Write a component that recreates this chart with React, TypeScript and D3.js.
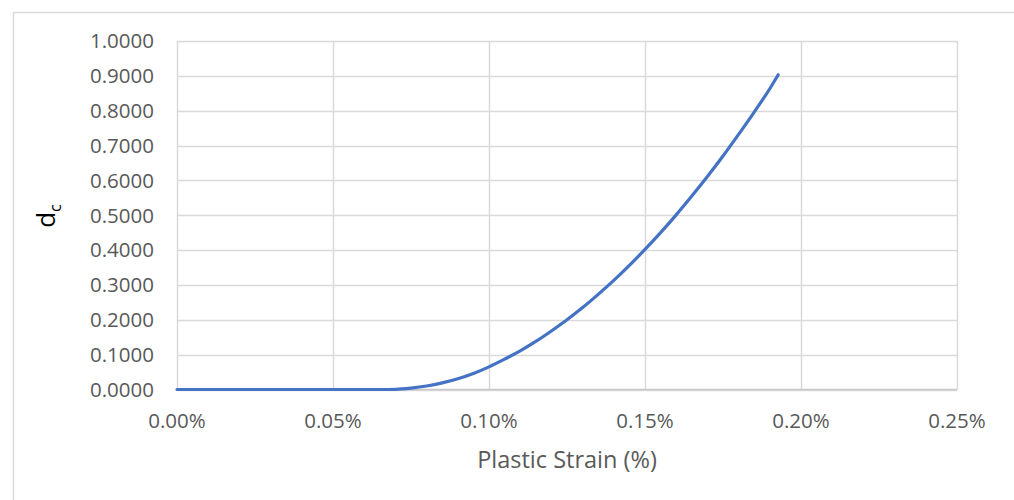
import React from "react";
import * as d3 from "d3";

const strainPct = [0, 0.01, 0.02, 0.03, 0.04, 0.05, 0.06, 0.065, 0.07, 0.075, 0.08, 0.085, 0.09, 0.095, 0.1, 0.105, 0.11, 0.115, 0.12, 0.125, 0.13, 0.135, 0.14, 0.145, 0.15, 0.155, 0.16, 0.165, 0.17, 0.175, 0.18, 0.185, 0.19, 0.1927];
const dcValues = [0, 0, 0, 0, 0, 0, 0, 0, 0.0005, 0.004, 0.01, 0.019, 0.031, 0.046, 0.065, 0.087, 0.111, 0.138, 0.168, 0.2, 0.235, 0.273, 0.313, 0.356, 0.402, 0.45, 0.501, 0.555, 0.611, 0.67, 0.732, 0.796, 0.863, 0.903];
const xTicks = [0, 0.05, 0.1, 0.15, 0.2, 0.25];
const yTicks = [0, 0.1, 0.2, 0.3, 0.4, 0.5, 0.6, 0.7, 0.8, 0.9, 1.0];

const W = 1014;
const H = 500;
const left = 177;
const right = 957;
const top = 41;
const bottom = 389.5;
const FONT = "'Open Sans', Lato, sans-serif";
const TEXT = "#595959";
const GRID = "#d9d9d9";

export default function App() {
  const x = d3.scaleLinear().domain([0, 0.25]).range([left, right]);
  const y = d3.scaleLinear().domain([0, 1]).range([bottom, top]);
  const data = strainPct.map((s, i) => [s, dcValues[i]] as [number, number]);
  const line = d3
    .line<[number, number]>()
    .x((d) => x(d[0]))
    .y((d) => y(d[1]))
    .curve(d3.curveMonotoneX);

  return (
    <svg
      width={W}
      height={H}
      style={{ position: "absolute", left: 0, top: 0, background: "#fff" }}
    >
      <rect x={0} y={0} width={W} height={H} fill="#fff" />
      <rect x={13.5} y={12.5} width={1010} height={520} fill="#fff" stroke={GRID} strokeWidth={1.5} />
      {yTicks.map((t) => (
        <line key={"gy" + t} x1={left} x2={right} y1={Math.round(y(t)) + 0.5} y2={Math.round(y(t)) + 0.5} stroke={GRID} strokeWidth={1.5} />
      ))}
      {xTicks.map((t) => (
        <line key={"gx" + t} x1={Math.round(x(t)) + 0.5} x2={Math.round(x(t)) + 0.5} y1={top} y2={bottom} stroke={GRID} strokeWidth={1.5} />
      ))}
      <line x1={left} x2={right} y1={bottom} y2={bottom} stroke="#c8c8c8" strokeWidth={1.5} />
      {yTicks.map((t) => (
        <text key={"ty" + t} x={154} y={y(t)} dy="0.36em" textAnchor="end" fontFamily={FONT} fontSize={20.5} fill={TEXT}>
          {t.toFixed(4)}
        </text>
      ))}
      {xTicks.map((t) => (
        <text key={"tx" + t} x={x(t)} y={428} textAnchor="middle" fontFamily={FONT} fontSize={20.5} fill={TEXT}>
          {t.toFixed(2) + "%"}
        </text>
      ))}
      <text x={(left + right) / 2} y={468} textAnchor="middle" fontFamily={FONT} fontSize={23.5} fill={TEXT}>
        Plastic Strain (%)
      </text>
      <text transform="translate(55,216) rotate(-90)" textAnchor="middle" fontFamily={FONT} fontSize={26} fill="#000">
        d<tspan fontSize={16} dy={6}>c</tspan>
      </text>
      <path d={line(data) || ""} fill="none" stroke="#4472C4" strokeWidth={3.2} strokeLinecap="round" />
    </svg>
  );
}
